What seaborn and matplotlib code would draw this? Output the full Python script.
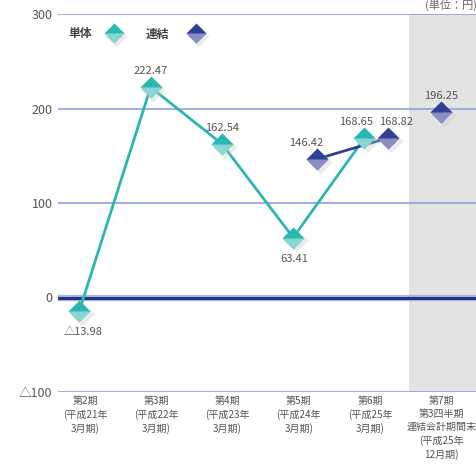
import matplotlib
matplotlib.use("Agg")
import matplotlib.pyplot as plt
import seaborn as sns
import pandas as pd
import numpy as np

categories = ["第2期\n(平成21年\n3月期)", "第3期\n(平成22年\n3月期)", "第4期\n(平成23年\n3月期)",
              "第5期\n(平成24年\n3月期)", "第6期\n(平成25年\n3月期)",
              "第7期\n第3四半期\n連結会計期間末\n(平成25年\n12月期)"]
single_periods = [0, 1, 2, 3, 4]
single_values = [-13.98, 222.47, 162.54, 63.41, 168.65]
single_labels = ["△13.98", "222.47", "162.54", "63.41", "168.65"]
cons_periods = [3, 4]
cons_values = [146.42, 168.82]
cons_labels = ["146.42", "168.82"]
q3_period = [5]
q3_value = [196.25]
q3_label = ["196.25"]
yticks = [300, 200, 100, 0, -100]
ytick_labels = ["300", "200", "100", "0", "△100"]

sns.set_theme(style="white")
plt.rcParams['font.family'] = ['Liberation Sans Narrow', 'Noto Sans CJK JP', 'DejaVu Sans']

TEAL = "#2ab7b2"
TEAL_L = "#d8f3f1"
NAVY = "#2f3f94"
NAVY_L = "#d4d2f0"
GRID = "#8aa3d6"
TXT = "#555555"

fig = plt.figure(figsize=(4.77, 4.68), dpi=100)
ax = fig.add_axes([58/477, 1 - 392/468, 1 - 58/477, (392 - 14)/468])
ax.set_xlim(-0.38, 5.5)
ax.set_ylim(-100, 300)

ax.axvspan(4.54, 5.6, color="#e3e3e3", zorder=0, lw=0)

for y in [300, 200, 100, -100]:
    ax.axhline(y, color=GRID, lw=1.2, zorder=1)
ax.axhline(0, color="#aab8e0", lw=4.5, zorder=1)
ax.axhline(0, color="#1f3585", lw=2.2, zorder=1)

S_OFF = -0.08
C_OFF = 0.25
df_s = pd.DataFrame({"x": np.array(single_periods) + S_OFF, "y": single_values})
df_c = pd.DataFrame({"x": np.array(cons_periods) + C_OFF, "y": cons_values})

sns.lineplot(data=df_s, x="x", y="y", ax=ax, color=TEAL, lw=2, zorder=3)
sns.lineplot(data=df_c, x="x", y="y", ax=ax, color=NAVY, lw=2, zorder=3)

MS = 11
def diamonds(a, xs, ys, c, calt, ms, sdx, sdy):
    xs = np.asarray(xs, float); ys = np.asarray(ys, float)
    a.plot(xs + sdx, ys + sdy, ls="none", marker="D", ms=ms + 1,
           color="#c8c8c8", alpha=0.35, mec="none", zorder=4)
    a.plot(xs, ys, ls="none", marker="D", ms=ms, color=c, mec="none", zorder=5)
    a.plot(xs, ys, ls="none", marker="D", ms=ms, fillstyle="bottom",
           markerfacecolor=calt, markerfacecoloralt="none", alpha=0.55, mec="none", zorder=6)
    a.plot(xs, ys, ls="none", marker="D", ms=ms * 0.45, fillstyle="bottom",
           markerfacecolor="white", markerfacecoloralt="none", alpha=0.0, mec="none", zorder=6)

diamonds(ax, df_s["x"], df_s["y"], TEAL, TEAL_L, MS, 0.04, -3)
diamonds(ax, df_c["x"], df_c["y"], NAVY, NAVY_L, MS, 0.04, -3)
diamonds(ax, [q3_period[0]], q3_value, NAVY, NAVY_L, MS, 0.04, -3)

fs = 8
s_dx = [0.05, 0.0, 0.0, 0.02, -0.12]
for x, y, t, dx in zip(df_s["x"], single_values, single_labels, s_dx):
    if y < 80:
        ax.text(x + dx, y - 17, t, ha="center", va="top", fontsize=fs, color=TXT, zorder=7)
    else:
        ax.text(x + dx, y + 12, t, ha="center", va="bottom", fontsize=fs, color=TXT, zorder=7)
c_dx = [-0.15, 0.12]
for x, y, t, dx in zip(df_c["x"], cons_values, cons_labels, c_dx):
    ax.text(x + dx, y + 12, t, ha="center", va="bottom", fontsize=fs, color=TXT, zorder=7)
ax.text(q3_period[0], q3_value[0] + 12, q3_label[0], ha="center", va="bottom", fontsize=fs, color=TXT, zorder=7)

ax.set_yticks(yticks)
ax.set_yticklabels(ytick_labels, fontsize=9, color=TXT)
ax.set_xticks(range(len(categories)))
ax.set_xticklabels(categories, fontsize=7.2, color=TXT, linespacing=1.35, va="top")
ax.tick_params(axis="both", length=0, pad=4)
ax.tick_params(axis="x", pad=3)
ax.set_xlabel("")
ax.set_ylabel("")
for s in ax.spines.values():
    s.set_visible(False)

# legend
fig.text(68/477, 1 - 34/468, "単体", fontsize=8.5, color="#444444", va="center", fontweight="bold")
fig.text(146/477, 1 - 34/468, "連結", fontsize=8.5, color="#444444", va="center", fontweight="bold")
lax = fig.add_axes([0, 0, 1, 1], facecolor="none")
lax.set_xlim(0, 477); lax.set_ylim(468, 0); lax.axis("off")
diamonds(lax, [114], [33], TEAL, TEAL_L, 10, 2, 3)
diamonds(lax, [196], [33], NAVY, NAVY_L, 10, 2, 3)

fig.text(1.0, 1 - 5/468, "(単位：円)", fontsize=8, color="#666666", ha="right", va="center")

fig.savefig("out.png", dpi=100)
